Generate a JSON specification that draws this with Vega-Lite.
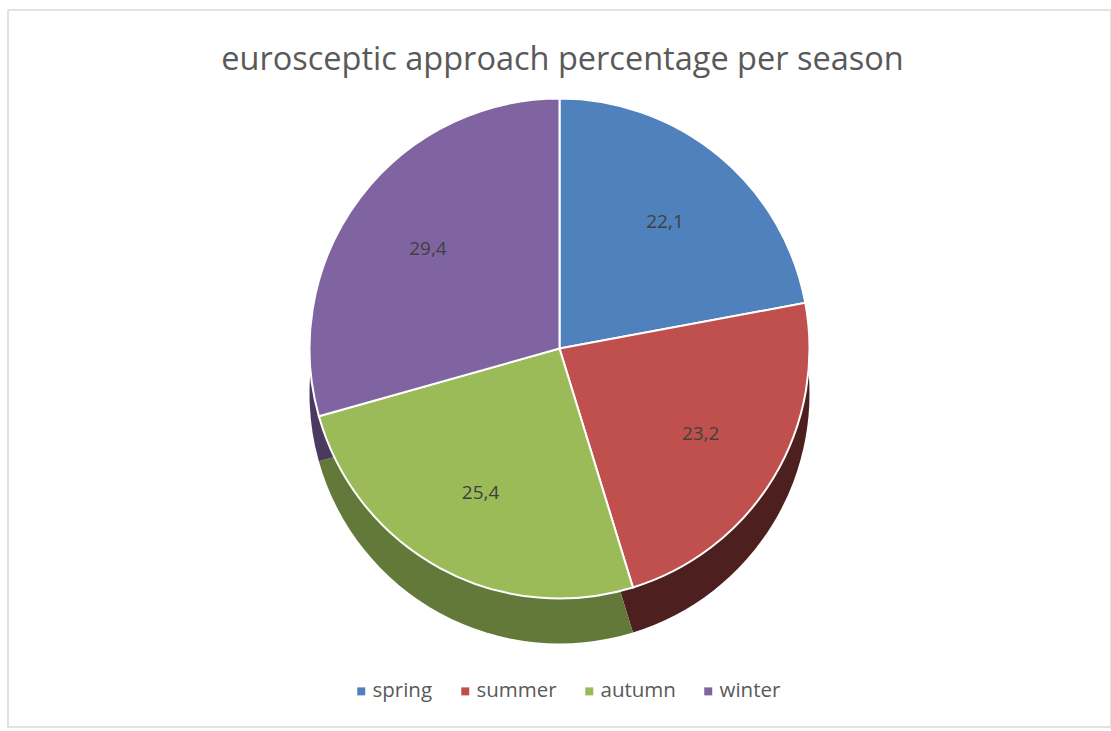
{
  "$schema": "https://vega.github.io/schema/vega-lite/v6.json",
  "width": 1103,
  "height": 717,
  "autosize": {"type": "none"},
  "padding": {"left": 8, "top": 10, "right": 0, "bottom": 4},
  "background": "#ffffff",
  "view": {"stroke": "#d9d9d9", "strokeWidth": 1.5},
  "title": {
    "text": "eurosceptic approach percentage per season",
    "orient": "top",
    "anchor": "middle",
    "offset": -66,
    "dx": 3,
    "font": "Open Sans",
    "fontSize": 32.5,
    "fontWeight": "normal",
    "color": "#595959"
  },
  "data": {
    "values": [
      {"season": "spring", "value": 22.1, "k": 1},
      {"season": "summer", "value": 23.2, "k": 2},
      {"season": "autumn", "value": 25.4, "k": 3},
      {"season": "winter", "value": 29.4, "k": 4}
    ]
  },
  "layer": [
    {
      "mark": {"type": "arc", "outerRadius": 250, "yOffset": 25, "stroke": "#ffffff", "strokeWidth": 0},
      "encoding": {
        "theta": {"field": "value", "type": "quantitative", "stack": true},
        "order": {"field": "k", "type": "quantitative"},
        "color": {
          "field": "season",
          "type": "nominal",
          "scale": {"domain": ["spring", "summer", "autumn", "winter"], "range": ["#2b4a70", "#4d1f1e", "#62793a", "#4a3a60"]},
          "legend": null
        }
      }
    },
    {
      "mark": {"type": "arc", "outerRadius": 250, "yOffset": -20, "stroke": "#ffffff", "strokeWidth": 2},
      "encoding": {
        "theta": {"field": "value", "type": "quantitative", "stack": true},
        "order": {"field": "k", "type": "quantitative"},
        "color": {
          "field": "season",
          "type": "nominal",
          "scale": {"domain": ["spring", "summer", "autumn", "winter"], "range": ["#4f81bd", "#c0504d", "#9bbb59", "#8064a2"]},
          "legend": {
            "title": null,
            "orient": "none",
            "direction": "horizontal",
            "legendX": 343,
            "legendY": 671,
            "symbolType": "square",
            "symbolSize": 64,
            "symbolStrokeWidth": 0,
            "labelFont": "Open Sans",
            "labelFontSize": 20.5,
            "labelColor": "#595959",
            "labelOffset": 1,
            "columnPadding": 22
          }
        }
      }
    },
    {
      "mark": {"type": "text", "radius": 165, "yOffset": -20, "font": "Open Sans", "fontSize": 19, "color": "#404040"},
      "encoding": {
        "theta": {"field": "value", "type": "quantitative", "stack": true},
        "order": {"field": "k", "type": "quantitative"},
        "text": {"field": "value", "type": "quantitative", "format": ".1f"}
      }
    }
  ],
  "resolve": {"scale": {"color": "independent"}},
  "config": {
    "view": {"stroke": "#d9d9d9", "strokeWidth": 1.5},
    "locale": {"number": {"decimal": ",", "thousands": ".", "grouping": [3], "currency": ["", " €"]}}
  }
}
